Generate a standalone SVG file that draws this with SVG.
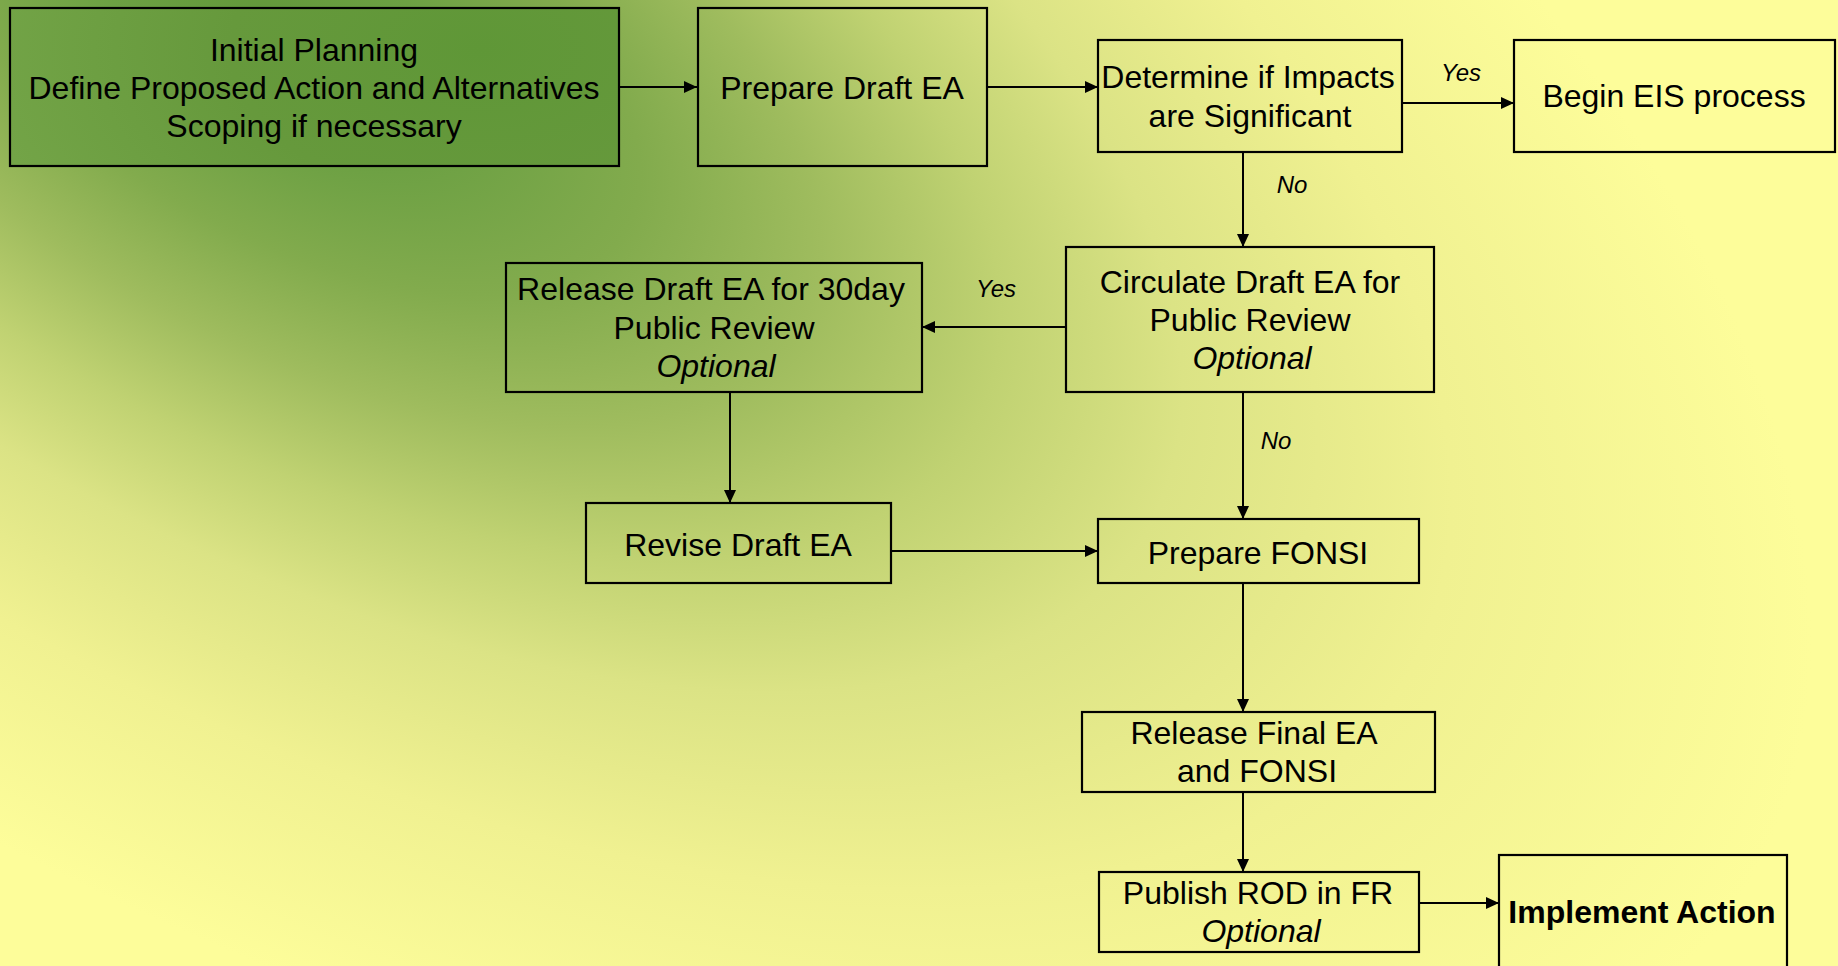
<svg xmlns="http://www.w3.org/2000/svg" width="1838" height="966" viewBox="0 0 1838 966">
<defs>
<radialGradient id="bg" gradientUnits="userSpaceOnUse" cx="280" cy="30" r="900" gradientTransform="translate(280 30) rotate(30) scale(2 1) translate(-280 -30)">
<stop offset="0" stop-color="#62983a"/>
<stop offset="0.11" stop-color="#6ca043"/>
<stop offset="0.222" stop-color="#82ab4d"/>
<stop offset="0.333" stop-color="#9fbc5e"/>
<stop offset="0.444" stop-color="#c0d272"/>
<stop offset="0.556" stop-color="#dbe385"/>
<stop offset="0.64" stop-color="#e6ea8b"/>
<stop offset="0.722" stop-color="#f0f191"/>
<stop offset="0.944" stop-color="#fdfd9a"/>
</radialGradient>
<radialGradient id="ipfill" gradientUnits="userSpaceOnUse" cx="480" cy="50" r="500" gradientTransform="translate(480 50) scale(1 0.6) translate(-480 -50)">
<stop offset="0" stop-color="#5f9737"/>
<stop offset="0.5" stop-color="#66993c"/>
<stop offset="1" stop-color="#73a447"/>
</radialGradient>
<marker id="arr" markerUnits="userSpaceOnUse" markerWidth="14" markerHeight="14" refX="13" refY="7" orient="auto">
<path d="M0,1 L13,7 L0,13 z" fill="#000"/>
</marker>
<style>
.box{fill:none;stroke:#000;stroke-width:2.2}
.t{font-family:"Liberation Sans",Arial,sans-serif;font-size:32px;fill:#000;text-anchor:middle}
.i{font-style:italic}
.b{font-weight:bold}
.lbl{font-family:"Liberation Sans",Arial,sans-serif;font-size:24px;font-style:italic;fill:#000;text-anchor:middle}
.c{fill:none;stroke:#000;stroke-width:2;marker-end:url(#arr)}
</style>
</defs>
<rect x="0" y="0" width="1838" height="966" fill="url(#bg)"/>

<g id="connectors">
<line class="c" x1="619" y1="87" x2="697" y2="87"/>
<line class="c" x1="987" y1="87" x2="1098" y2="87"/>
<line class="c" x1="1402" y1="103" x2="1514" y2="103"/>
<line class="c" x1="1243" y1="152" x2="1243" y2="247"/>
<line class="c" x1="1066" y1="327" x2="922" y2="327"/>
<line class="c" x1="730" y1="392" x2="730" y2="503"/>
<line class="c" x1="1243" y1="392" x2="1243" y2="519"/>
<line class="c" x1="891" y1="551" x2="1098" y2="551"/>
<line class="c" x1="1243" y1="583" x2="1243" y2="712"/>
<line class="c" x1="1243" y1="792" x2="1243" y2="872"/>
<line class="c" x1="1419" y1="903" x2="1499" y2="903"/>
<text class="lbl" x="1461" y="81">Yes</text>
<text class="lbl" x="1292" y="193">No</text>
<text class="lbl" x="996" y="297">Yes</text>
<text class="lbl" x="1276" y="449">No</text>
</g>

<g id="initial-planning">
<rect class="box" x="10" y="8" width="609" height="158" style="fill:url(#ipfill)"/>
<text class="t" x="314" y="61">Initial Planning</text>
<text class="t" x="314" y="99">Define Proposed Action and Alternatives</text>
<text class="t" x="314" y="137">Scoping if necessary</text>
</g>

<g id="prepare-draft-ea">
<rect class="box" x="698" y="8" width="289" height="158"/>
<text class="t" x="842" y="99">Prepare Draft EA</text>
</g>

<g id="determine-impacts">
<rect class="box" x="1098" y="40" width="304" height="112"/>
<text class="t" x="1248" y="88">Determine if Impacts</text>
<text class="t" x="1250" y="127">are Significant</text>
</g>

<g id="begin-eis">
<rect class="box" x="1514" y="40" width="321" height="112"/>
<text class="t" x="1674" y="107">Begin EIS process</text>
</g>

<g id="circulate-draft-ea">
<rect class="box" x="1066" y="247" width="368" height="145"/>
<text class="t" x="1250" y="293">Circulate Draft EA for</text>
<text class="t" x="1250" y="331">Public Review</text>
<text class="t i" x="1252" y="369">Optional</text>
</g>

<g id="release-draft-ea">
<rect class="box" x="506" y="263" width="416" height="129"/>
<text class="t" x="711" y="300">Release Draft EA for 30day</text>
<text class="t" x="714" y="339">Public Review</text>
<text class="t i" x="716" y="377">Optional</text>
</g>

<g id="revise-draft-ea">
<rect class="box" x="586" y="503" width="305" height="80"/>
<text class="t" x="738" y="556">Revise Draft EA</text>
</g>

<g id="prepare-fonsi">
<rect class="box" x="1098" y="519" width="321" height="64"/>
<text class="t" x="1258" y="564">Prepare FONSI</text>
</g>

<g id="release-final-ea">
<rect class="box" x="1082" y="712" width="353" height="80"/>
<text class="t" x="1254" y="744">Release Final EA</text>
<text class="t" x="1257" y="782">and FONSI</text>
</g>

<g id="publish-rod">
<rect class="box" x="1099" y="872" width="320" height="80"/>
<text class="t" x="1258" y="904">Publish ROD in FR</text>
<text class="t i" x="1261" y="942">Optional</text>
</g>

<g id="implement-action">
<rect class="box" x="1499" y="855" width="288" height="130"/>
<text class="t b" x="1642" y="923">Implement Action</text>
</g>
</svg>
